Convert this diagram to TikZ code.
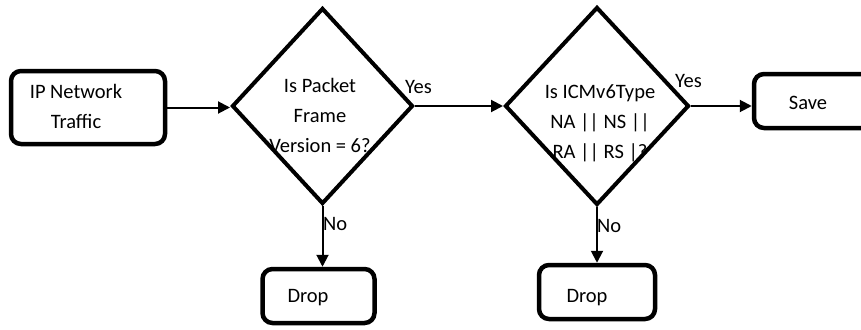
\documentclass[tikz,border=0pt]{standalone}
\usepackage{fontspec}
\setmainfont{Carlito}
\usetikzlibrary{shapes.geometric,arrows.meta}
\tikzset{
  box/.style={draw, line width=4.5pt, rounded corners=10pt, inner sep=0pt},
  decision/.style={draw, diamond, line width=4pt, inner sep=0pt},
  label text/.style={inner sep=0pt, font=\fontsize{20.5}{30}\selectfont, align=center},
  flow/.style={line width=2pt, -{Triangle[length=12pt,width=12pt]}}
}
\begin{document}
\begin{tikzpicture}[x=1pt,y=-1pt]
  \useasboundingbox (0,0) rectangle (861,329);
  \clip (0,0) rectangle (861,329);

  % text inside the decisions (the outlines are drawn over it)
  \node[label text] (t1) at (320,115) {Is Packet\\Frame\\Version = 6?};
  \node[label text] (t2) at (600,123) {Is ICMv6Type\\NA || NS ||\\RA || RS |?};

  % boxes
  \node[box, minimum width=154pt, minimum height=73pt] (ip) at (88,107.5) {};
  \node[label text] (iptext) at (76,106.5) {IP Network\\Traffic};

  \node[box, minimum width=112pt, minimum height=54pt] (drop1) at (318.5,296) {};
  \node[label text] at (308,298) {Drop};

  \node[box, minimum width=116pt, minimum height=54pt] (drop2) at (597,292) {};
  \node[label text] at (587,298) {Drop};

  \node[box, minimum width=126pt, minimum height=54pt] (save) at (817,101) {};
  \node[label text] at (808,103) {Save};

  % decisions
  \node[decision, minimum width=181pt, minimum height=196pt] (d1) at (322.5,106) {};
  \node[decision, minimum width=184pt, minimum height=198pt] (d2) at (597,106) {};

  % connectors
  \draw[flow] (ip.east) -- (ip.east -| d1.west);
  \draw[flow] (d1.east) -- (d1.east -| d2.west);
  \draw[flow] (d2.east) -- (d2.east -| save.west);
  \draw[flow] (d1.south) -- (d1.south |- drop1.north);
  \draw[flow] (d2.south) -- (d2.south |- drop2.north);

  % branch labels
  \node[label text, anchor=west] (yes1) at (405,87) {Yes};
  \node[label text, anchor=west] (yes2) at (675,81) {Yes};
  \node[label text, anchor=west] (no1) at (323,224) {No};
  \node[label text, anchor=west] (no2) at (597,226) {No};
\end{tikzpicture}
\end{document}
